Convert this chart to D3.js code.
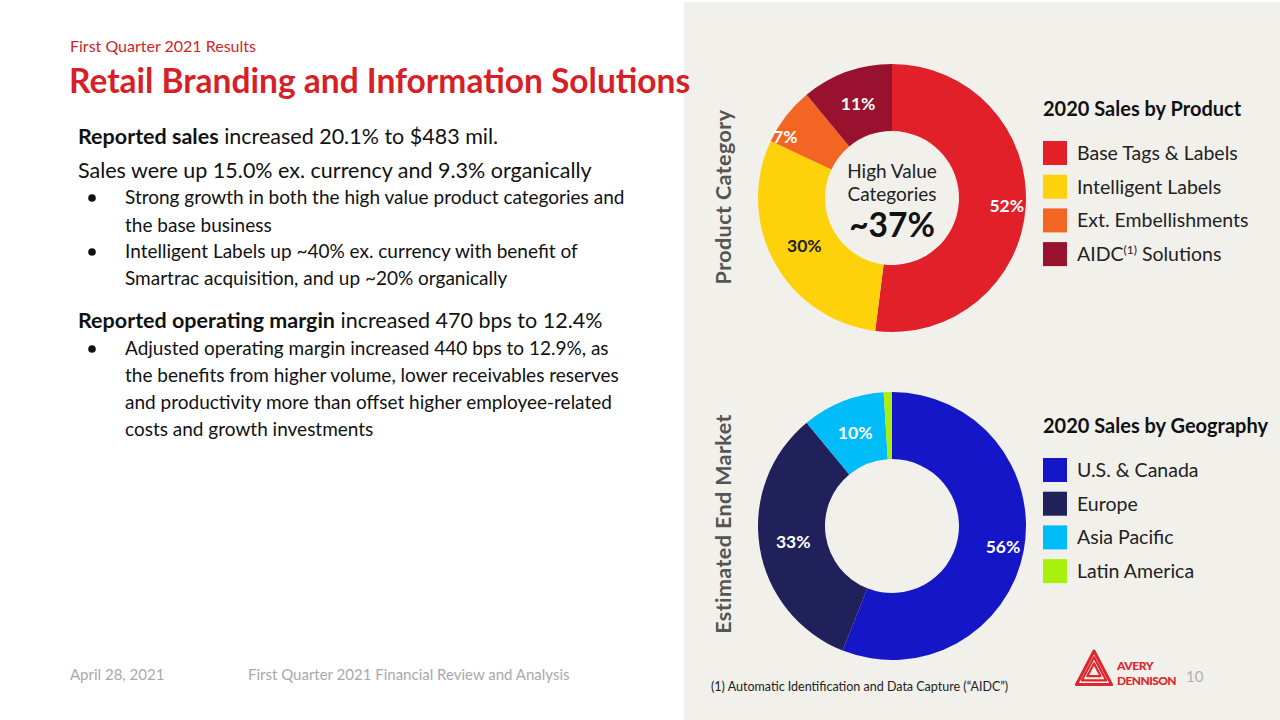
<!DOCTYPE html>
<meta charset="UTF-8">
<script src="https://d3js.org/d3.v7.min.js"></script>
<style>
  body { margin: 0; background: #fff; }
  text { font-family: Lato, "Open Sans", sans-serif; }
</style>
<body>
<div id="chart"></div>
<script>

// product donut
var productNames = ["Base Tags & Labels", "Intelligent Labels", "Ext. Embellishments", "AIDC Solutions"];
var productShare = [52, 30, 7, 11];
var productColors = ["#e2202a", "#fdd20b", "#f26522", "#98122f"];

// geography donut
var geoNames = ["U.S. & Canada", "Europe", "Asia Pacific", "Latin America"];
var geoShare = [56, 33, 10, 1];
var geoColors = ["#1616c9", "#20205a", "#00bcf8", "#a8f00c"];

var width = 1280, height = 720;

var svg = d3.select("#chart")
  .append("svg")
    .attr("width", width)
    .attr("height", height);

// grey panel on the right
svg.append("rect")
  .attr("x", 684).attr("y", 2)
  .attr("width", width - 684).attr("height", height - 2)
  .attr("fill", "#f2f0eb");

// left side text
svg.append("text")
  .attr("x", 70).attr("y", 52)
  .attr("font-size", 16).attr("fill", "#d2232a")
  .text("First Quarter 2021 Results");

svg.append("text")
  .attr("x", 69).attr("y", 93)
  .attr("font-size", 33.5).attr("font-weight", "bold").attr("fill", "#d71f27")
  .text("Retail Branding and Information Solutions");

function line(x, y, size, parts) {
  var t = svg.append("text").attr("x", x).attr("y", y).attr("font-size", size).attr("fill", "#111");
  parts.forEach(function(p) {
    t.append("tspan").attr("font-weight", p[1] ? "bold" : "normal").text(p[0]);
  });
}
function bullet(y) {
  svg.append("circle").attr("cx", 92).attr("cy", y - 6).attr("r", 3.8).attr("fill", "#111");
}

line(78, 144, 21.5, [["Reported sales", 1], [" increased 20.1% to $483 mil."]]);
line(78, 178, 21.5, [["Sales were up 15.0% ex. currency and 9.3% organically"]]);
bullet(204);
line(125, 204, 19, [["Strong growth in both the high value product categories and"]]);
line(125, 232, 19, [["the base business"]]);
bullet(258);
line(125, 258, 19, [["Intelligent Labels up ~40% ex. currency with benefit of"]]);
line(125, 285, 19, [["Smartrac acquisition, and up ~20% organically"]]);
line(78, 328, 21.5, [["Reported operating margin", 1], [" increased 470 bps to 12.4%"]]);
bullet(355);
line(125, 355, 19, [["Adjusted operating margin increased 440 bps to 12.9%, as"]]);
line(125, 382, 19, [["the benefits from higher volume, lower receivables reserves"]]);
line(125, 409, 19, [["and productivity more than offset higher employee-related"]]);
line(125, 436, 19, [["costs and growth investments"]]);

// footer
svg.append("text").attr("x", 70).attr("y", 680).attr("font-size", 15).attr("fill", "#a9a9a9")
  .text("April 28, 2021");
svg.append("text").attr("x", 248).attr("y", 680).attr("font-size", 15).attr("fill", "#a9a9a9")
  .text("First Quarter 2021 Financial Review and Analysis");
svg.append("text").attr("x", 711).attr("y", 691).attr("font-size", 12.5).attr("fill", "#222")
  .text("(1) Automatic Identification and Data Capture (\u201CAIDC\u201D)");
svg.append("text").attr("x", 1186).attr("y", 682).attr("font-size", 15).attr("fill", "#b0b0b0")
  .text("10");

// logo
var logo = svg.append("g").attr("transform", "translate(1094,671)").attr("fill", "none")
  .attr("stroke", "#e0262d").attr("stroke-linejoin", "round").attr("stroke-linecap", "round");
[16, 11, 6].forEach(function(s, i) {
  logo.append("path")
    .attr("d", "M0," + (-s * 1.25) + " L" + (s * 1.1) + "," + (s * 0.85) + " L" + (-s * 1.1) + "," + (s * 0.85) + " Z")
    .attr("stroke-width", i == 0 ? 3 : 2.2);
});
svg.append("text").attr("x", 1117).attr("y", 670).attr("font-size", 12).attr("font-weight", "900")
  .attr("fill", "#e0262d").attr("letter-spacing", -0.4).text("AVERY");
svg.append("text").attr("x", 1117).attr("y", 685).attr("font-size", 12).attr("font-weight", "900")
  .attr("fill", "#e0262d").attr("letter-spacing", -0.6).text("DENNISON");

// rotated side labels
function sideLabel(cy, txt) {
  svg.append("text")
    .attr("transform", "translate(731," + cy + ") rotate(-90)")
    .attr("text-anchor", "middle")
    .attr("font-size", 21.5).attr("font-weight", "bold").attr("fill", "#555")
    .attr("letter-spacing", 0.4)
    .text(txt);
}
sideLabel(197, "Product Category");
sideLabel(524, "Estimated End Market");

// donuts
var pie = d3.pie().sort(null).value(function(d) { return d; });
var arc = d3.arc().innerRadius(67).outerRadius(134);

function donut(cx, cy, values, colors, labelCfg) {
  var g = svg.append("g").attr("transform", "translate(" + cx + "," + cy + ")");
  var arcs = pie(values);
  g.selectAll("path")
    .data(arcs)
    .enter()
    .append("path")
      .attr("d", arc)
      .attr("fill", function(d, i) { return colors[i]; });
  g.selectAll("text.pct")
    .data(arcs)
    .enter()
    .filter(function(d, i) { return labelCfg[i] != null; })
    .append("text")
      .attr("class", "pct")
      .attr("text-anchor", "middle")
      .attr("dy", "0.36em")
      .attr("font-size", 17.5).attr("font-weight", "bold")
      .attr("fill", function(d, i) { return labelCfg[d.index][2]; })
      .attr("transform", function(d) {
        var c = labelCfg[d.index];
        var a = (d.startAngle + d.endAngle) / 2 + c[1] * Math.PI / 180;
        return "translate(" + (Math.sin(a) * c[0]) + "," + (-Math.cos(a) * c[0]) + ")";
      })
      .text(function(d) { return d.value + "%"; });
  return g;
}

// [radius, angle shift, colour]
var d1 = donut(892, 198, productShare, productColors,
  [[115, 0, "#fff"], [100, 0, "#222"], [123, -8, "#fff"], [100, 0, "#fff"]]);
var d2 = donut(892, 526, geoShare, geoColors,
  [[113, 0, "#fff"], [100, 0, "#fff"], [100, 0, "#fff"], null]);

d1.append("text").attr("text-anchor", "middle").attr("y", -20).attr("font-size", 19).attr("fill", "#222")
  .text("High Value");
d1.append("text").attr("text-anchor", "middle").attr("y", 3).attr("font-size", 19).attr("fill", "#222")
  .text("Categories");
d1.append("text").attr("text-anchor", "middle").attr("y", 39).attr("font-size", 33.5).attr("font-weight", "bold").attr("fill", "#111")
  .text("~37%");

// legends
function legend(y0, title, names, colors) {
  var g = svg.append("g").attr("transform", "translate(1043," + y0 + ")");
  g.append("text").attr("y", 0).attr("font-size", 20).attr("font-weight", "bold").attr("fill", "#111")
    .text(title);
  var items = g.selectAll("g.item")
    .data(names)
    .enter()
    .append("g")
      .attr("transform", function(d, i) { return "translate(0," + (37 + i * 33.7) + ")"; });
  items.append("rect")
    .attr("x", 0).attr("y", -12).attr("width", 24).attr("height", 24)
    .attr("fill", function(d, i) { return colors[i]; });
  var t = items.append("text")
    .attr("x", 34).attr("dy", "0.35em").attr("font-size", 19.5).attr("fill", "#222");
  t.each(function(d) {
    var el = d3.select(this);
    if (d == "AIDC Solutions") {
      el.append("tspan").text("AIDC");
      el.append("tspan").attr("font-size", 12).attr("dy", -7).text("(1)");
      el.append("tspan").attr("dy", 7).text(" Solutions");
    } else {
      el.text(d);
    }
  });
}
legend(116, "2020 Sales by Product", productNames, productColors);
legend(433, "2020 Sales by Geography", geoNames, geoColors);

</script>
</body>
